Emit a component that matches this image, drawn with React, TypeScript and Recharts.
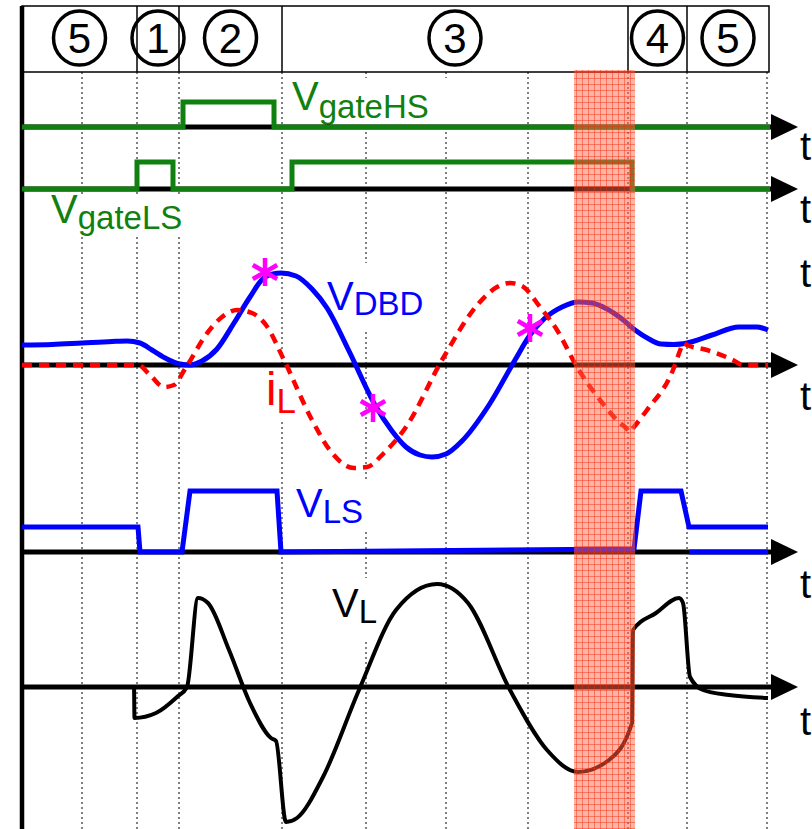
import React from 'react';
import {
  ComposedChart, Line, Scatter, XAxis, YAxis,
  ReferenceLine, ReferenceArea, ReferenceDot,
} from 'recharts';

const W = 812;
const H = 829;
const X0 = 22; // pixel column of t = 0
const FONT = '"Liberation Sans", Arial, Helvetica, sans-serif';

const GREEN = '#108010';
const BLUE = '#0000ff';
const RED = '#ff0000';
const MAGENTA = '#ff00ff';

// switching intervals (t units)
const phaseEdges = [0, 115, 157, 260, 606, 665, 747];
const phaseNames = ['5', '1', '2', '3', '4', '5'];
const gridTimes = [60, 115, 157, 260, 344, 424, 506, 606, 665, 745];
const bandRange = [552, 613];

const gateHS = [
  { t: 0, v: 0 }, { t: 161, v: 0 }, { t: 161, v: 1 }, { t: 252, v: 1 },
  { t: 252, v: 0 }, { t: 748, v: 0 },
];
const gateLS = [
  { t: 0, v: 0 }, { t: 115, v: 0 }, { t: 115, v: 1 }, { t: 151, v: 1 },
  { t: 151, v: 0 }, { t: 270, v: 0 }, { t: 270, v: 1 }, { t: 610, v: 1 },
  { t: 610, v: 0 }, { t: 748, v: 0 },
];

const vDBD = [
  { t: 0, v: 0.2 }, { t: 30, v: 0.205 }, { t: 60, v: 0.22 }, { t: 90, v: 0.235 },
  { t: 105, v: 0.24 }, { t: 118, v: 0.22 }, { t: 130, v: 0.15 }, { t: 145, v: 0.06 },
  { t: 158, v: 0.01 }, { t: 168, v: 0 }, { t: 180, v: 0.04 }, { t: 195, v: 0.16 },
  { t: 212, v: 0.42 }, { t: 228, v: 0.68 }, { t: 243, v: 0.88 }, { t: 259, v: 0.92 },
  { t: 274, v: 0.89 }, { t: 290, v: 0.76 }, { t: 305, v: 0.57 }, { t: 327, v: 0.14 },
  { t: 353, v: -0.4 }, { t: 370, v: -0.66 }, { t: 384, v: -0.82 }, { t: 398, v: -0.9 },
  { t: 410, v: -0.92 }, { t: 424, v: -0.89 }, { t: 440, v: -0.76 }, { t: 467, v: -0.4 },
  { t: 493, v: 0.05 }, { t: 508, v: 0.3 }, { t: 522, v: 0.46 }, { t: 540, v: 0.58 },
  { t: 556, v: 0.63 }, { t: 570, v: 0.62 }, { t: 585, v: 0.56 }, { t: 600, v: 0.46 },
  { t: 613, v: 0.35 }, { t: 627, v: 0.26 }, { t: 639, v: 0.21 }, { t: 652, v: 0.205 },
  { t: 665, v: 0.22 }, { t: 690, v: 0.3 }, { t: 717, v: 0.38 }, { t: 735, v: 0.38 },
  { t: 746, v: 0.35 },
];

const iL = [
  { t: 0, v: 0 }, { t: 116, v: 0 }, { t: 128, v: -0.1 }, { t: 142, v: -0.22 },
  { t: 152, v: -0.2 }, { t: 163, v: -0.04 }, { t: 186, v: 0.33 }, { t: 200, v: 0.48 },
  { t: 215, v: 0.55 }, { t: 230, v: 0.52 }, { t: 244, v: 0.4 }, { t: 262, v: 0.05 },
  { t: 290, v: -0.55 }, { t: 310, v: -0.88 }, { t: 332, v: -1.03 }, { t: 345, v: -1.02 },
  { t: 362, v: -0.88 }, { t: 384, v: -0.62 }, { t: 420, v: 0.05 }, { t: 457, v: 0.62 },
  { t: 475, v: 0.78 }, { t: 488, v: 0.82 }, { t: 500, v: 0.79 }, { t: 518, v: 0.58 },
  { t: 535, v: 0.35 }, { t: 555, v: -0.02 }, { t: 578, v: -0.35 }, { t: 598, v: -0.58 },
  { t: 604, v: -0.63 }, { t: 608, v: -0.67 }, { t: 612, v: -0.62 }, { t: 625, v: -0.45 },
  { t: 651, v: -0.05 }, { t: 659, v: 0.17 }, { t: 661, v: 0.22 }, { t: 665, v: 0.2 },
  { t: 685, v: 0.15 }, { t: 711, v: 0.05 }, { t: 721, v: 0 }, { t: 746, v: 0 },
];

const dbdMarks = [{ t: 243, v: 0.93 }, { t: 351, v: -0.43 }, { t: 508, v: 0.37 }];

const vLS = [
  { t: 0, v: 0.41 }, { t: 116, v: 0.41 }, { t: 118, v: 0 }, { t: 160, v: 0 },
  { t: 168, v: 1 }, { t: 255, v: 1 }, { t: 259, v: 0 }, { t: 612, v: 0.05 },
  { t: 619, v: 1 }, { t: 659, v: 1 }, { t: 667, v: 0.41 }, { t: 746, v: 0.41 },
];
const vLSlow = [{ t: 667, v: 0 }, { t: 746, v: 0 }];

const vL = [
  { t: 0, v: 0 }, { t: 112, v: 0 }, { t: 112.5, v: -0.31 }, { t: 134, v: -0.26 },
  { t: 155, v: -0.1 }, { t: 165, v: 0 }, { t: 176, v: 0.89 }, { t: 186, v: 0.84 },
  { t: 207, v: 0.37 }, { t: 228, v: -0.16 }, { t: 249, v: -0.51 }, { t: 254, v: -0.54 },
  { t: 264, v: -1.35 }, { t: 275, v: -1.31 }, { t: 301, v: -0.9 }, { t: 337, v: -0.03 },
  { t: 374, v: 0.77 }, { t: 415, v: 1.03 }, { t: 446, v: 0.84 }, { t: 488, v: -0.03 },
  { t: 525, v: -0.63 }, { t: 556, v: -0.85 }, { t: 587, v: -0.73 }, { t: 610, v: -0.36 },
  { t: 611, v: 0.57 }, { t: 634, v: 0.74 }, { t: 657, v: 0.89 }, { t: 661, v: 0.84 },
  { t: 668, v: 0.1 }, { t: 681, v: -0.03 }, { t: 707, v: -0.08 }, { t: 746, v: -0.11 },
];

// zero line (px) and pixels per unit of each trace
const lanes: Record<string, [number, number]> = {
  hs: [127, 25], ls: [189, 27], dbd: [365, 100], vls: [552, 61], vl: [687, 100],
};
const dom = (k: string): [number, number] => {
  const [z, u] = lanes[k];
  return [(z - H) / u, z / u];
};

const labels = [
  { x: 292, y: 110, main: 'V', sub: 'gateHS', dy: 8, color: GREEN, bg: [288, 78, 160, 46] },
  { x: 51, y: 223, main: 'V', sub: 'gateLS', dy: 6, color: GREEN, bg: [48, 197, 140, 40] },
  { x: 327, y: 310, main: 'V', sub: 'DBD', dy: 5, color: BLUE, bg: [322, 263, 110, 69] },
  { x: 296, y: 517, main: 'V', sub: 'LS', dy: 6, color: BLUE, bg: [285, 482, 88, 50] },
  { x: 332, y: 617, main: 'V', sub: 'L', dy: 6, color: '#000', bg: [325, 578, 55, 62] },
];
const tBaselines = [160, 223, 287, 410, 598, 735];

const asterisk = (p: any) => {
  const { cx, cy } = p;
  const r = 14;
  return (
    <g stroke={MAGENTA} strokeWidth={4.5}>
      <line x1={cx} y1={cy - r} x2={cx} y2={cy + r} />
      <line x1={cx - r * 0.87} y1={cy - r * 0.5} x2={cx + r * 0.87} y2={cy + r * 0.5} />
      <line x1={cx - r * 0.87} y1={cy + r * 0.5} x2={cx + r * 0.87} y2={cy - r * 0.5} />
    </g>
  );
};

const arrow = (p: any) => (
  <polygon points={`${p.cx},${p.cy - 13} ${p.cx + 27},${p.cy} ${p.cx},${p.cy + 13}`} fill="#000" />
);

const meshBand = (p: any) => (
  <g>
    <defs>
      <pattern id="mesh" width={6} height={6} patternUnits="userSpaceOnUse">
        <rect width={6} height={6} fill="#ff6a4a" fillOpacity={0.5} />
        <path d="M0 0.5 H6 M0.5 0 V6" stroke="#f02a10" strokeOpacity={0.45} strokeWidth={1} />
      </pattern>
    </defs>
    <rect x={p.x} y={p.y} width={p.width} height={p.height} fill="url(#mesh)" />
  </g>
);

const lineProps = { dot: false, activeDot: false, isAnimationActive: false, zIndex: 400 } as const;

export default function App() {
  return (
    <div style={{ position: 'absolute', left: 0, top: 0, width: W, height: H, background: '#fff' }}>
      <ComposedChart width={W} height={H} margin={{ top: 0, right: 0, bottom: 0, left: 0 }}>
        <XAxis type="number" dataKey="t" domain={[-X0, W - X0]} allowDataOverflow hide />
        <YAxis yAxisId="px" type="number" domain={[0, H]} reversed allowDataOverflow hide />
        {Object.keys(lanes).map((k) => (
          <YAxis key={k} yAxisId={k} type="number" dataKey="v" domain={dom(k)} allowDataOverflow hide />
        ))}

        {gridTimes.map((t) => (
          <ReferenceLine key={`g${t}`} yAxisId="px" ifOverflow="visible" zIndex={10}
            segment={[{ x: t, y: 72 }, { x: t, y: H }]}
            stroke="#000" strokeWidth={1} strokeDasharray="2 3" />
        ))}

        <ReferenceArea yAxisId="px" x1={0} x2={747} y1={6} y2={72} ifOverflow="visible" zIndex={20}
          fill="#fff" fillOpacity={1} stroke="#000" strokeWidth={1.5} />
        {phaseEdges.slice(1, -1).map((t) => (
          <ReferenceLine key={`d${t}`} yAxisId="px" ifOverflow="visible" zIndex={25}
            segment={[{ x: t, y: 6 }, { x: t, y: 72 }]} stroke="#000" strokeWidth={1.5} />
        ))}
        {phaseNames.map((n, i) => (
          <ReferenceDot key={`c${i}`} yAxisId="px" ifOverflow="visible" zIndex={30}
            x={(phaseEdges[i] + phaseEdges[i + 1]) / 2} y={38}
            shape={(p: any) => (
              <g>
                <ellipse cx={p.cx} cy={p.cy} rx={26} ry={27} fill="none" stroke="#000" strokeWidth={3.5} />
                <text x={p.cx} y={p.cy + 15} textAnchor="middle" fontFamily={FONT} fontSize={42} fill="#000">{n}</text>
              </g>
            )} />
        ))}

        {labels.map((l) => (
          <ReferenceDot key={l.sub} yAxisId="px" ifOverflow="visible" zIndex={40}
            x={l.x - X0} y={l.y}
            shape={(p: any) => (
              <g>
                <rect x={p.cx + l.bg[0] - l.x} y={p.cy + l.bg[1] - l.y} width={l.bg[2]} height={l.bg[3]} fill="#fff" />
                <text x={p.cx} y={p.cy} fontFamily={FONT} fill={l.color}>
                  <tspan fontSize={40}>{l.main}</tspan>
                  <tspan fontSize={33} dy={l.dy}>{l.sub}</tspan>
                </text>
              </g>
            )} />
        ))}
        <ReferenceDot yAxisId="px" ifOverflow="visible" zIndex={40} x={266 - X0} y={405}
          shape={(p: any) => (
            <g>
              <rect x={p.cx - 5} y={p.cy - 38} width={36} height={52} fill="#fff" />
              <text x={p.cx} y={p.cy} fontFamily={FONT} fill={RED}>
                <tspan fontSize={47}>i</tspan>
                <tspan fontSize={35} dy={8}>L</tspan>
              </text>
            </g>
          )} />

        <ReferenceLine yAxisId="px" ifOverflow="visible" zIndex={50}
          segment={[{ x: 0, y: 6 }, { x: 0, y: H }]} stroke="#000" strokeWidth={4.5} />
        {Object.keys(lanes).map((k) => (
          <ReferenceLine key={`a${k}`} yAxisId={k} ifOverflow="visible" zIndex={50}
            segment={[{ x: 0, y: 0 }, { x: 750, y: 0 }]} stroke="#000" strokeWidth={5} />
        ))}
        {Object.keys(lanes).map((k) => (
          <ReferenceDot key={`r${k}`} yAxisId={k} ifOverflow="visible" zIndex={50}
            x={749} y={0} shape={arrow} />
        ))}
        {tBaselines.map((y) => (
          <ReferenceDot key={`t${y}`} yAxisId="px" ifOverflow="visible" zIndex={50}
            x={800 - X0} y={y}
            shape={(p: any) => (
              <text x={p.cx} y={p.cy} fontFamily={FONT} fontSize={40} fill="#000">t</text>
            )} />
        ))}

        <Line data={gateHS} dataKey="v" yAxisId="hs" type="linear" stroke={GREEN} strokeWidth={5} {...lineProps} />
        <Line data={gateLS} dataKey="v" yAxisId="ls" type="linear" stroke={GREEN} strokeWidth={5} {...lineProps} />
        <Line data={vDBD} dataKey="v" yAxisId="dbd" type="monotoneX" stroke={BLUE} strokeWidth={5} {...lineProps} />
        <Line data={iL} dataKey="v" yAxisId="dbd" type="monotoneX" stroke={RED} strokeWidth={4.5}
          strokeDasharray="10 7" {...lineProps} />
        <Line data={vLS} dataKey="v" yAxisId="vls" type="linear" stroke={BLUE} strokeWidth={5} {...lineProps} />
        <Line data={vLSlow} dataKey="v" yAxisId="vls" type="linear" stroke={BLUE} strokeWidth={5} {...lineProps} />
        <Line data={vL} dataKey="v" yAxisId="vl" type="monotoneX" stroke="#000" strokeWidth={4} {...lineProps} />
        <Scatter data={dbdMarks} yAxisId="dbd" shape={asterisk} isAnimationActive={false} zIndex={600} />

        <ReferenceArea yAxisId="px" x1={bandRange[0]} x2={bandRange[1]} y1={70} y2={H}
          ifOverflow="visible" zIndex={1500} shape={meshBand} />
      </ComposedChart>
    </div>
  );
}
